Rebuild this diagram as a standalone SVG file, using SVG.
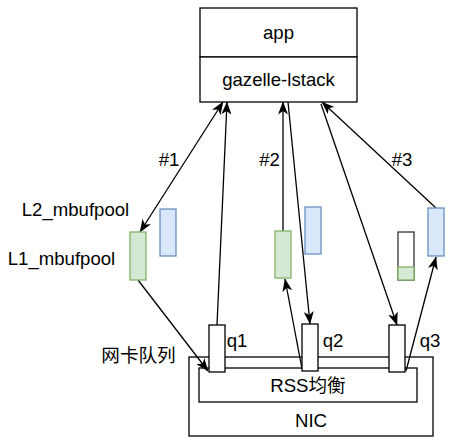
<svg xmlns="http://www.w3.org/2000/svg" width="463" height="447" viewBox="0 0 463 447">
<defs>
<style>
text{font-family:"Liberation Sans",Arial,sans-serif;font-size:18.6px;fill:#000;}
.cjk{font-family:"Liberation Sans","Noto Sans CJK SC",sans-serif;}
.box{fill:#fff;stroke:#000;stroke-width:1.3;}
.g{fill:#d5e8d4;stroke:#82b366;stroke-width:1.3;}
.b{fill:#dae8fc;stroke:#6c8ebf;stroke-width:1.3;}
.c{fill:none;stroke:#000;stroke-width:1.3;}
.m{text-anchor:middle;}
</style>
<marker id="arr" viewBox="0 0 13 10" refX="12.5" refY="5" markerWidth="13" markerHeight="10" markerUnits="userSpaceOnUse" orient="auto-start-reverse">
<path d="M0,0 L13,5 L0,10 L3.5,5 Z" fill="#000"/>
</marker>
</defs>
<rect width="463" height="447" fill="#fff"/>
<g id="nic">
<rect class="box" x="189" y="357" width="244" height="79"/>
<text class="m" x="311" y="427">NIC</text>
</g>
<g id="rss">
<rect class="box" x="199" y="368" width="218" height="34"/>
<text class="m cjk" x="308" y="392">RSS均衡</text>
</g>
<g id="app">
<rect class="box" x="200" y="8" width="157" height="49"/>
<text class="m" x="278.5" y="39">app</text>
</g>
<g id="lstack">
<rect class="box" x="200" y="57" width="157" height="45"/>
<text class="m" x="278.5" y="86">gazelle-lstack</text>
</g>
<g id="connectors">
<path class="c" d="M223,102 L140,232" marker-start="url(#arr)" marker-end="url(#arr)"/>
<path class="c" d="M217,325 L227,102" marker-end="url(#arr)"/>
<path class="c" d="M138,280 L208,371" marker-end="url(#arr)"/>
<path class="c" d="M283,231 L283,102" marker-end="url(#arr)"/>
<path class="c" d="M288,102 L310,324" marker-end="url(#arr)"/>
<path class="c" d="M302,369 L285,279" marker-end="url(#arr)"/>
<path class="c" d="M321,104 L397,325" marker-end="url(#arr)"/>
<path class="c" d="M436,208 L322,102" marker-end="url(#arr)"/>
<path class="c" d="M406,371 L436,257" marker-end="url(#arr)"/>
</g>
<g id="q1">
<rect class="box" x="209" y="325" width="16" height="47"/>
<text class="m" x="237" y="347">q1</text>
</g>
<g id="q2">
<rect class="box" x="302" y="324" width="16" height="47"/>
<text class="m" x="333" y="347">q2</text>
</g>
<g id="q3">
<rect class="box" x="389" y="325" width="16" height="47"/>
<text class="m" x="430" y="347">q3</text>
</g>
<g id="pool1-l1">
<rect class="g" x="130" y="232" width="16" height="48"/>
</g>
<g id="pool1-l2">
<rect class="b" x="160" y="209" width="16" height="47"/>
</g>
<g id="pool2-l1">
<rect class="g" x="275" y="231" width="16" height="47"/>
</g>
<g id="pool2-l2">
<rect class="b" x="305" y="207" width="16" height="47"/>
</g>
<g id="pool3-l1">
<rect x="398" y="232" width="16" height="48" fill="#fff" stroke="#333" stroke-width="1.3"/>
<rect class="g" x="398" y="267" width="16" height="13"/>
</g>
<g id="pool3-l2">
<rect class="b" x="428" y="208" width="16" height="48"/>
</g>
<g id="labels">
<text class="m" x="75.5" y="216">L2_mbufpool</text>
<text class="m" x="61.5" y="265">L1_mbufpool</text>
<text class="m cjk" x="138.5" y="362">网卡队列</text>
<text class="m" x="169" y="166">#1</text>
<text class="m" x="269.5" y="166">#2</text>
<text class="m" x="402" y="166">#3</text>
</g>
</svg>
